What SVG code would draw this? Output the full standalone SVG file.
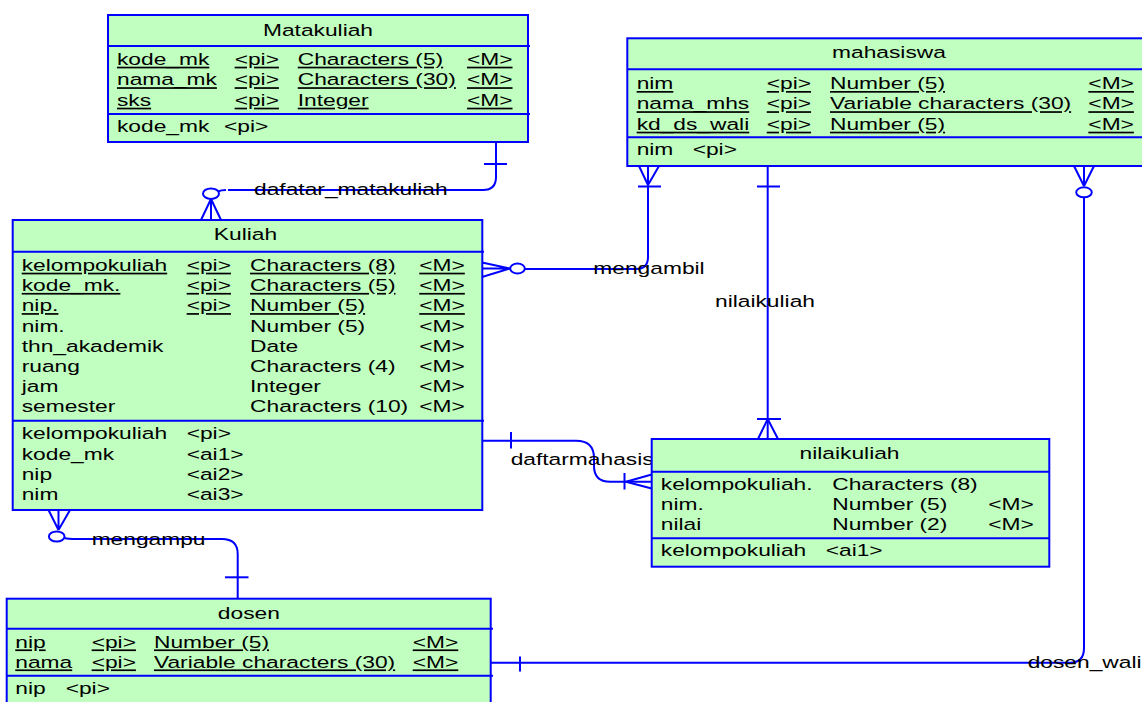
<svg xmlns="http://www.w3.org/2000/svg" width="1142" height="702" viewBox="0 0 1142 702">
<style>
.box{fill:#C0FFC0;stroke:#0000FF;stroke-width:2}
.sep{stroke:#0000FF;stroke-width:2}
.c{fill:none;stroke:#0000FF;stroke-width:2}
text{font-family:"Liberation Sans",Arial,sans-serif;font-size:17px;fill:#000}
.u{text-decoration:underline}
.m{text-anchor:middle}
</style>
<rect width="1142" height="702" fill="#FFFFFF"/>
<g id="connectors">
  <g id="c-dafatar">
    <path class="c" d="M496,142 V177 Q496,190 483,190 H228"/>
    <path class="c" d="M226,190 Q221,190 218,191.5"/>
    <path class="c" d="M484,164 H507"/>
    <ellipse class="c" cx="211" cy="193.7" rx="8" ry="5.3"/>
    <path class="c" d="M211,199 L201,220 M211,199 V220 M211,199 L221,220"/>
    <g transform="scale(1.34 1)"><text x="189.6" y="195.5">dafatar_matakuliah</text></g>
  </g>
  <g id="c-mengambil">
    <path class="c" d="M482,262.5 L510,268.5 M482,268.5 H510 M482,277 L510,268.5"/>
    <ellipse class="c" cx="517.5" cy="268.5" rx="7.3" ry="5"/>
    <path class="c" d="M525,269 H636 Q648,269 648,257 V166"/>
    <path class="c" d="M639,166 L648,185 M648,166 V185 M659,166 L648,185 M638,186.5 H661"/>
    <g transform="scale(1.34 1)"><text x="442.8" y="274.5">mengambil</text></g>
  </g>
  <g id="c-nilaikuliah">
    <path class="c" d="M767.7,166 V439"/>
    <path class="c" d="M757,186.5 H780 M757,419 H781 M767.7,419 L758,439 M767.7,419 L778,439"/>
    <g transform="scale(1.34 1)"><text x="533.6" y="306.7">nilaikuliah</text></g>
  </g>
  <g id="c-daftarmahasis">
    <path class="c" d="M482,440.7 H576 Q594,440.7 594,458 V466 Q594,481.7 610,481.7 H651.7"/>
    <path class="c" d="M511,432 V448.5 M624.5,473 V489.5 M626,481.7 L651.7,474.5 M626,481.7 L651.7,488.5"/>
    <g transform="scale(1.34 1)"><text x="381.1" y="465">daftarmahasis</text></g>
  </g>
  <g id="c-mengampu">
    <path class="c" d="M58.5,530 L48.5,510 M58.5,530 V510 M58.5,530 L70,510"/>
    <ellipse class="c" cx="56.7" cy="536.5" rx="7.8" ry="5"/>
    <path class="c" d="M64.5,538 Q68,539 76,539 H222 Q237.7,539 237.7,554 V598.7"/>
    <path class="c" d="M225,577.3 H248.5"/>
    <g transform="scale(1.34 1)"><text x="68.4" y="545">mengampu</text></g>
  </g>
  <g id="c-dosen_wali">
    <path class="c" d="M491,662.7 H1070 Q1084,662.7 1084,648 V197.5"/>
    <path class="c" d="M520,656.5 V671.5"/>
    <path class="c" d="M1074,166 L1084,186 M1084,166 V186 M1094,166 L1084,186"/>
    <ellipse class="c" cx="1084" cy="192.3" rx="7.8" ry="5"/>
    <g transform="scale(1.34 1)"><text x="766.9" y="668.3">dosen_wali</text></g>
  </g>
</g>
<g id="matakuliah">
  <rect class="box" x="108" y="15" width="420" height="127"/>
  <path class="sep" d="M108,46 H530 M108,114 H530"/>
  <g transform="scale(1.34 1)">
    <text class="m" x="237.3" y="36">Matakuliah</text>
    <text class="u" x="87.3" y="65">kode_mk</text><text class="u" x="175.1" y="65">&lt;pi&gt;</text><text class="u" x="222.2" y="65">Characters (5)</text><text class="u" x="348.5" y="65">&lt;M&gt;</text>
    <text class="u" x="87.3" y="85.5">nama_mk</text><text class="u" x="175.1" y="85.5">&lt;pi&gt;</text><text class="u" x="222.2" y="85.5">Characters (30)</text><text class="u" x="348.5" y="85.5">&lt;M&gt;</text>
    <text class="u" x="87.3" y="106">sks</text><text class="u" x="175.1" y="106">&lt;pi&gt;</text><text class="u" x="222.2" y="106">Integer</text><text class="u" x="348.5" y="106">&lt;M&gt;</text>
    <text x="87.3" y="132">kode_mk</text><text x="167.2" y="132">&lt;pi&gt;</text>
  </g>
</g>
<g id="mahasiswa">
  <rect class="box" x="627.3" y="38.3" width="530" height="127.7"/>
  <path class="sep" d="M627.3,69.3 H1157 M627.3,137.3 H1157"/>
  <g transform="scale(1.34 1)">
    <text class="m" x="663.4" y="58">mahasiswa</text>
    <text class="u" x="475.1" y="89.3">nim</text><text class="u" x="572.2" y="89.3">&lt;pi&gt;</text><text class="u" x="619.4" y="89.3">Number (5)</text><text class="u" x="812.2" y="89.3">&lt;M&gt;</text>
    <text class="u" x="475.1" y="109.5">nama_mhs</text><text class="u" x="572.2" y="109.5">&lt;pi&gt;</text><text class="u" x="619.4" y="109.5">Variable characters (30)</text><text class="u" x="812.2" y="109.5">&lt;M&gt;</text>
    <text class="u" x="475.1" y="130">kd_ds_wali</text><text class="u" x="572.2" y="130">&lt;pi&gt;</text><text class="u" x="619.4" y="130">Number (5)</text><text class="u" x="812.2" y="130">&lt;M&gt;</text>
    <text x="475.1" y="155">nim</text><text x="516.9" y="155">&lt;pi&gt;</text>
  </g>
</g>
<g id="kuliah">
  <rect class="box" x="12.7" y="220" width="469.6" height="290"/>
  <path class="sep" d="M12.7,251.7 H484 M12.7,420.7 H484"/>
  <g transform="scale(1.34 1)">
    <text class="m" x="183.2" y="240">Kuliah</text>
    <text class="u" x="16.2" y="271">kelompokuliah</text><text class="u" x="139.3" y="271">&lt;pi&gt;</text><text class="u" x="186.6" y="271">Characters (8)</text><text class="u" x="312.9" y="271">&lt;M&gt;</text>
    <text class="u" x="16.2" y="291.2">kode_mk.</text><text class="u" x="139.3" y="291.2">&lt;pi&gt;</text><text class="u" x="186.6" y="291.2">Characters (5)</text><text class="u" x="312.9" y="291.2">&lt;M&gt;</text>
    <text class="u" x="16.2" y="311.4">nip.</text><text class="u" x="139.3" y="311.4">&lt;pi&gt;</text><text class="u" x="186.6" y="311.4">Number (5)</text><text class="u" x="312.9" y="311.4">&lt;M&gt;</text>
    <text x="16.2" y="331.6">nim.</text><text x="186.6" y="331.6">Number (5)</text><text x="312.9" y="331.6">&lt;M&gt;</text>
    <text x="16.2" y="351.8">thn_akademik</text><text x="186.6" y="351.8">Date</text><text x="312.9" y="351.8">&lt;M&gt;</text>
    <text x="16.2" y="372">ruang</text><text x="186.6" y="372">Characters (4)</text><text x="312.9" y="372">&lt;M&gt;</text>
    <text x="16.2" y="392.2">jam</text><text x="186.6" y="392.2">Integer</text><text x="312.9" y="392.2">&lt;M&gt;</text>
    <text x="16.2" y="412.4">semester</text><text x="186.6" y="412.4">Characters (10)</text><text x="312.9" y="412.4">&lt;M&gt;</text>
    <text x="16.2" y="439.3">kelompokuliah</text><text x="139.3" y="439.3">&lt;pi&gt;</text>
    <text x="16.2" y="459.6">kode_mk</text><text x="139.3" y="459.6">&lt;ai1&gt;</text>
    <text x="16.2" y="479.9">nip</text><text x="139.3" y="479.9">&lt;ai2&gt;</text>
    <text x="16.2" y="500.2">nim</text><text x="139.3" y="500.2">&lt;ai3&gt;</text>
  </g>
</g>
<g id="nilaikuliah">
  <rect class="box" x="651.7" y="439" width="397.6" height="127.7"/>
  <path class="sep" d="M651.7,471.7 H1050 M651.7,538.3 H1050"/>
  <g transform="scale(1.34 1)">
    <text class="m" x="634" y="459.3">nilaikuliah</text>
    <text x="493.1" y="490">kelompokuliah.</text><text x="621.1" y="490">Characters (8)</text>
    <text x="493.1" y="510.2">nim.</text><text x="621.1" y="510.2">Number (5)</text><text x="737.5" y="510.2">&lt;M&gt;</text>
    <text x="493.1" y="530.4">nilai</text><text x="621.1" y="530.4">Number (2)</text><text x="737.5" y="530.4">&lt;M&gt;</text>
    <text x="493.1" y="556">kelompokuliah</text><text x="616.2" y="556">&lt;ai1&gt;</text>
  </g>
</g>
<g id="dosen">
  <rect class="box" x="6.7" y="598.7" width="484" height="120"/>
  <path class="sep" d="M6.7,628.7 H493 M6.7,675.7 H493"/>
  <g transform="scale(1.34 1)">
    <text class="m" x="185.7" y="619.3">dosen</text>
    <text class="u" x="11.4" y="647.7">nip</text><text class="u" x="68.4" y="647.7">&lt;pi&gt;</text><text class="u" x="114.9" y="647.7">Number (5)</text><text class="u" x="308" y="647.7">&lt;M&gt;</text>
    <text class="u" x="11.4" y="667.7">nama</text><text class="u" x="68.4" y="667.7">&lt;pi&gt;</text><text class="u" x="114.9" y="667.7">Variable characters (30)</text><text class="u" x="308" y="667.7">&lt;M&gt;</text>
    <text x="11.4" y="694.3">nip</text><text x="49" y="694.3">&lt;pi&gt;</text>
  </g>
</g>
</svg>
